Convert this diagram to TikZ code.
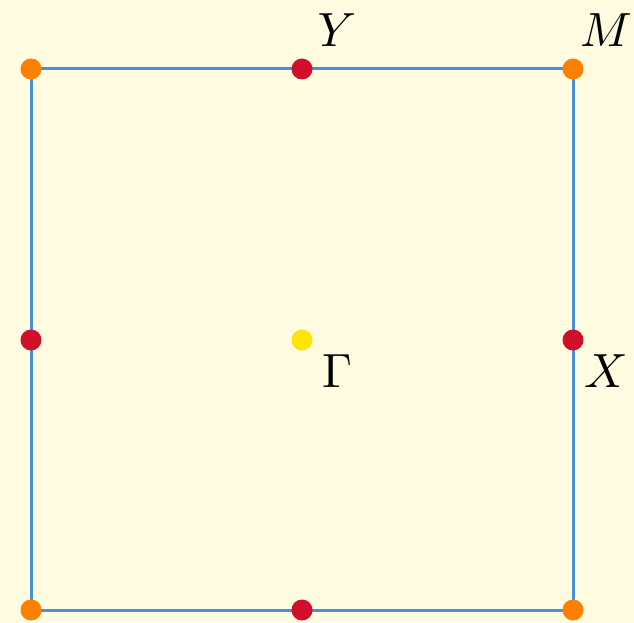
\documentclass[tikz,border=0pt]{standalone}
\newcommand{\bigmath}[1]{\scalebox{4.8}{$#1$}}
\begin{document}
\begin{tikzpicture}[x=1pt,y=-1pt,
  dotbase/.style={circle,inner sep=0pt,minimum size=21pt},
  corner/.style={dotbase,fill=cornerorange},
  mid/.style={dotbase,fill=midred},
  centre/.style={dotbase,fill=centreyellow},
  edge/.style={draw=edgeblue,line width=3pt},
  lbl/.style={anchor=base,inner sep=0pt}]
\definecolor{bgc}{HTML}{FEFBE0}
\definecolor{cornerorange}{HTML}{FF7F00}
\definecolor{midred}{HTML}{D0102A}
\definecolor{centreyellow}{HTML}{FFE600}
\definecolor{edgeblue}{HTML}{4A90D9}
\fill[bgc] (0,0) rectangle (634,623);
\useasboundingbox (0,0) rectangle (634,623);
\coordinate (tl) at (31,69);
\coordinate (tr) at (573,69);
\coordinate (bl) at (31,610);
\coordinate (br) at (573,610);
\draw[edge] (tl) -- (tr) -- (br) -- (bl) -- cycle;
\node[corner] (c1) at (tl) {};
\node[corner] (c2) at (tr) {};
\node[corner] (c3) at (bl) {};
\node[corner] (c4) at (br) {};
\node[mid] (my) at (302,69) {};
\node[mid] (mb) at (302,610) {};
\node[mid] (ml) at (31,340) {};
\node[mid] (mx) at (573,340) {};
\node[centre] (g) at (302,340) {};
\node[lbl] (ly) at (337,47) {\bigmath{Y}};
\node[lbl] (lm) at (606,47) {\bigmath{M}};
\node[lbl] (lx) at (606,387) {\bigmath{X}};
\node[lbl] (lg) at (337,387) {\bigmath{\Gamma}};
\end{tikzpicture}
\end{document}
